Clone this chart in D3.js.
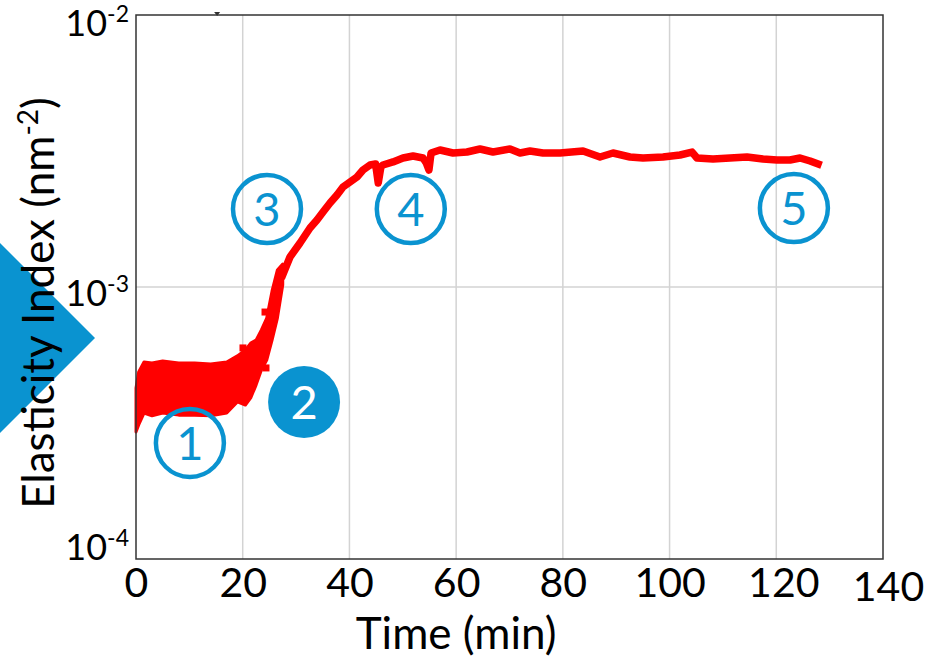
<!DOCTYPE html>
<html>
<head>
<meta charset="utf-8">
<script src="https://cdn.jsdelivr.net/npm/d3@7"></script>
<style>
  html, body { margin: 0; padding: 0; background: #fff; }
  svg { display: block; font-family: Lato, "Open Sans", sans-serif; }
</style>
</head>
<body>
<svg id="chart" width="931" height="658"></svg>
<script>
// values (time in min, elasticity index in nm^-2)
const xTicks = [0, 20, 40, 60, 80, 100, 120, 140];
const yTicks = [1e-4, 1e-3, 1e-2];
const yTickExponents = ['-4', '-3', '-2'];

// noisy start: upper / lower edge of the scatter cloud
const bandTime = [0, 0.5, 1.5, 3, 5, 8, 11, 14, 17, 19, 20.5, 21.5, 22.5, 23.5, 24.5, 25.5, 26.5, 27.5];
const bandUpper = [4.25e-4, 4.87e-4, 5.30e-4, 5.26e-4, 5.35e-4, 5.26e-4, 5.26e-4, 5.21e-4, 5.30e-4,
  5.58e-4, 5.87e-4, 6.22e-4, 6.38e-4, 6.95e-4, 7.69e-4, 9.67e-4, 1.155e-3, 1.215e-3];
const bandLower = [2.93e-4, 3.11e-4, 3.44e-4, 3.36e-4, 3.44e-4, 3.38e-4, 3.38e-4, 3.36e-4, 3.44e-4,
  3.78e-4, 3.68e-4, 3.91e-4, 4.36e-4, 4.95e-4, 5.39e-4, 6.38e-4, 7.69e-4, 1.017e-3];

// main trace after the rise
const traceTime = [27.5, 28.86, 30.74, 32.61, 33.92, 35.05, 36.36, 37.67, 38.8, 40.11, 41.42, 42.54,
  43.86, 44.9, 45.4, 45.9, 46.29, 48.17, 50.04, 51.92, 53.79, 54.4, 54.9, 55.3, 56.98, 59.41, 62.03,
  64.47, 66.91, 70.09, 71.97, 73.84, 76.28, 79.46, 83.78, 86.96, 89.4, 92.58, 95.02, 98.77, 101.96,
  104.21, 105.14, 108.14, 111.33, 114.51, 117.51, 120.14, 122.58, 124.45, 126.33, 127.83];
const traceValue = [1.107e-3, 1.289e-3, 1.451e-3, 1.648e-3, 1.763e-3, 1.886e-3, 2.036e-3, 2.178e-3,
  2.331e-3, 2.432e-3, 2.538e-3, 2.692e-3, 2.809e-3, 2.833e-3, 2.412e-3, 2.762e-3, 2.809e-3, 2.882e-3,
  2.980e-3, 3.031e-3, 2.980e-3, 2.857e-3, 2.692e-3, 3.109e-3, 3.189e-3, 3.109e-3, 3.135e-3, 3.216e-3,
  3.135e-3, 3.216e-3, 3.109e-3, 3.162e-3, 3.109e-3, 3.109e-3, 3.162e-3, 3.006e-3, 3.109e-3, 3.006e-3,
  2.980e-3, 3.006e-3, 3.057e-3, 3.135e-3, 2.980e-3, 2.955e-3, 2.980e-3, 3.006e-3, 2.955e-3, 2.930e-3,
  2.930e-3, 2.980e-3, 2.906e-3, 2.833e-3];

// stray points around the step
const strayTime = [20.05, 24.18, 24.36];
const strayValue = [5.97e-4, 8.09e-4, 5.04e-4];

// numbered stage markers
const markerLabels = ['1', '2', '3', '4', '5'];
const markerTime = [10.1, 31.5, 24.55, 51.5, 123.3];
const markerValue = [2.67e-4, 3.78e-4, 1.935e-3, 1.935e-3, 1.95e-3];
const markerFilled = [false, true, false, false, false];

const width = 931;
const height = 658;
const margin = {top: 15, right: 48, bottom: 99, left: 136};
const plotWidth = width - margin.left - margin.right;
const plotHeight = height - margin.top - margin.bottom;
const red = '#ff0000';
const blue = '#0a93d0';

const svg = d3.select('#chart');

// side arrow first, so the y labels sit on top of it
svg.append('path')
  .attr('d', 'M0,243L95,338L0,433Z')
  .attr('fill', blue);

const g = svg.append('g').attr('transform', `translate(${margin.left},${margin.top})`);

const x = d3.scaleLinear().domain([0, 140]).range([0, plotWidth]);
const y = d3.scaleLog().domain([1e-4, 1e-2]).range([plotHeight, 0]);

// grid
g.append('g')
  .selectAll('line')
  .data(xTicks.slice(1, -1))
  .join('line')
  .attr('x1', (d) => x(d)).attr('x2', (d) => x(d))
  .attr('y1', 0).attr('y2', plotHeight)
  .attr('stroke', '#d3d3d3').attr('stroke-width', 1.5);
g.append('line')
  .attr('x1', 0).attr('x2', plotWidth)
  .attr('y1', y(1e-3)).attr('y2', y(1e-3))
  .attr('stroke', '#d3d3d3').attr('stroke-width', 1.5);

// data
const band = bandTime.map((t, i) => ({t, hi: bandUpper[i], lo: bandLower[i]}));
g.append('path')
  .datum(band)
  .attr('fill', red)
  .attr('stroke', red)
  .attr('stroke-width', 3)
  .attr('stroke-linejoin', 'round')
  .attr('d', d3.area().x((d) => x(d.t)).y0((d) => y(d.lo)).y1((d) => y(d.hi)));

const trace = traceTime.map((t, i) => ({t, v: traceValue[i]}));
g.append('path')
  .datum(trace)
  .attr('fill', 'none')
  .attr('stroke', red)
  .attr('stroke-width', 7.5)
  .attr('stroke-linejoin', 'round')
  .attr('stroke-linecap', 'square')
  .attr('d', d3.line().x((d) => x(d.t)).y((d) => y(d.v)));

g.append('g')
  .selectAll('rect')
  .data(strayTime.map((t, i) => ({t, v: strayValue[i]})))
  .join('rect')
  .attr('x', (d) => x(d.t) - 3.5).attr('y', (d) => y(d.v) - 3.5)
  .attr('width', 7).attr('height', 7)
  .attr('fill', red);

// frame
g.append('rect')
  .attr('width', plotWidth).attr('height', plotHeight)
  .attr('fill', 'none').attr('stroke', '#333').attr('stroke-width', 1.5);
g.append('path')
  .attr('d', `M${x(15.2) - 3},-3h6l-3,4z`)
  .attr('fill', '#333');

// x axis
const xAxis = g.append('g')
  .attr('transform', `translate(0,${plotHeight})`)
  .call(d3.axisBottom(x).tickValues(xTicks).tickSize(0));
xAxis.select('.domain').remove();
const xNudge = {120: [7, 0], 140: [5, 4]};
xAxis.selectAll('.tick text')
  .attr('font-family', 'Lato, "Open Sans", sans-serif')
  .attr('font-size', 41)
  .attr('fill', '#000')
  .attr('dy', null)
  .attr('x', (d) => (xNudge[d] ? xNudge[d][0] : 0))
  .attr('y', (d) => 38 + (xNudge[d] ? xNudge[d][1] : 0));

// y axis with power-of-ten labels
const yAxis = g.append('g').call(d3.axisLeft(y).tickValues(yTicks).tickSize(0).tickFormat(''));
yAxis.select('.domain').remove();
const yShift = [0, 18, 20];
yAxis.selectAll('.tick text').each(function(d, i) {
  const t = d3.select(this)
    .attr('font-family', 'Lato, "Open Sans", sans-serif')
    .attr('font-size', 36)
    .attr('fill', '#000')
    .attr('dy', null)
    .attr('x', -7)
    .attr('y', yShift[i]);
  t.append('tspan').text('10');
  t.append('tspan').attr('dy', -14).attr('font-size', 23).text(yTickExponents[i]);
});

// stage markers
const markers = g.append('g')
  .selectAll('g')
  .data(markerLabels.map((label, i) => ({label, t: markerTime[i], v: markerValue[i], filled: markerFilled[i]})))
  .join('g')
  .attr('transform', (d) => `translate(${x(d.t)},${y(d.v)})`);
markers.append('circle')
  .attr('r', (d) => (d.filled ? 36 : 34))
  .attr('fill', (d) => (d.filled ? blue : 'none'))
  .attr('stroke', blue)
  .attr('stroke-width', (d) => (d.filled ? 0 : 4.5));
markers.append('text')
  .attr('text-anchor', 'middle')
  .attr('y', 17)
  .attr('font-size', 47)
  .attr('fill', (d) => (d.filled ? '#fff' : blue))
  .text((d) => d.label);

// axis titles
svg.append('text')
  .attr('x', margin.left + x(60))
  .attr('y', 649)
  .attr('text-anchor', 'middle')
  .attr('font-size', 44)
  .text('Time (min)');

const yTitle = svg.append('text')
  .attr('transform', 'translate(54,303) rotate(-90)')
  .attr('text-anchor', 'middle')
  .attr('font-size', 44);
yTitle.append('tspan').text('Elasticity Index (nm');
yTitle.append('tspan').attr('dy', -16).attr('font-size', 28).text('-2');
yTitle.append('tspan').attr('dy', 16).text(')');
</script>
</body>
</html>
